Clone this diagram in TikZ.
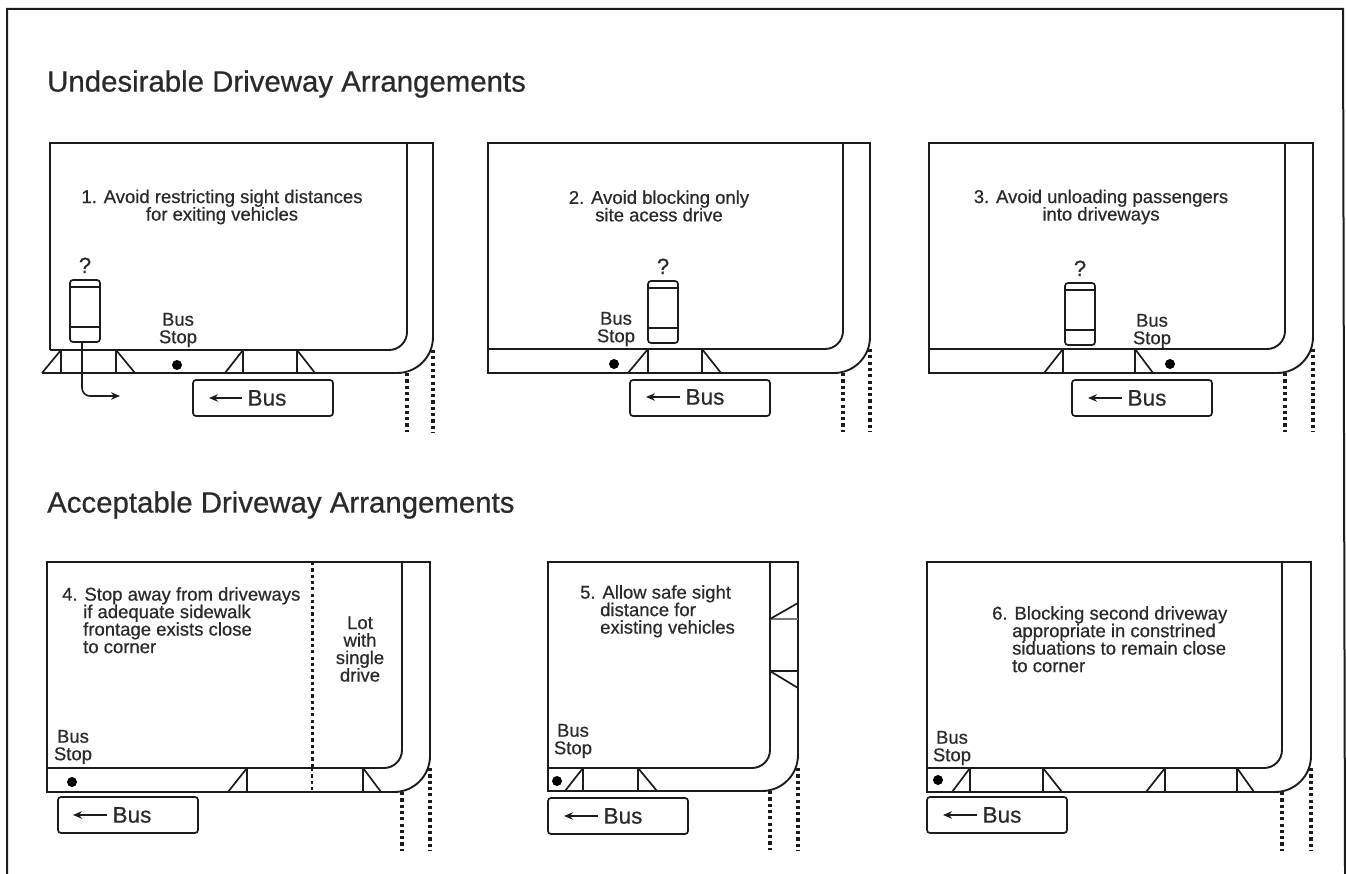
\documentclass[tikz,border=0pt]{standalone}
\usepackage{fontspec}
\setmainfont{Liberation Sans}[FakeBold=0.6]
\usepackage{tikz}
\usetikzlibrary{arrows.meta,positioning}
\definecolor{inkline}{HTML}{1C1C1C}
\definecolor{inktext}{HTML}{2A2A2A}
\tikzset{
  road/.style={draw=inkline, line width=1.9pt},
  flare/.style={draw=inkline, line width=1.7pt},
  dots/.style={draw=inkline, line width=3.8pt, dash pattern=on 3.2pt off 3.1pt},
  frameline/.style={draw=inkline, line width=2pt},
  heading/.style={anchor=west, inner sep=0pt, text=inktext, font=\fontsize{29.4}{29.4}\selectfont},
  note/.style={inner sep=0pt, text=inktext, align=center, font=\fontsize{18.5}{17.5}\selectfont},
  notel/.style={inner sep=0pt, anchor=north west, text=inktext, align=left, font=\fontsize{18.5}{17.5}\selectfont},
  stoplbl/.style={inner sep=0pt, text=inktext, align=center, font=\fontsize{18.5}{17.5}\selectfont},
  busbox/.style={draw=inkline, line width=1.7pt, rounded corners=3pt, minimum width=140pt, minimum height=36pt},
  buslbl/.style={inner sep=5pt, text=inktext, font=\fontsize{22.5}{22.5}\selectfont},
  busarr/.style={-{Stealth[length=9pt, width=7.5pt]}, draw=inkline, line width=1.6pt},
  stopdot/.style={circle, fill=black, inner sep=0pt, minimum size=10pt},
  carbox/.style={draw=inkline, line width=1.7pt, rounded corners=3pt, minimum width=30pt, minimum height=62pt,
    path picture={
      \draw[inkline, line width=1.2pt] ([yshift=-7pt]path picture bounding box.north west) -- ([yshift=-7pt]path picture bounding box.north east);
      \draw[inkline, line width=1.2pt] ([yshift=15pt]path picture bounding box.south west) -- ([yshift=15pt]path picture bounding box.south east);
    }},
  carlbl/.style={inner sep=0pt, text=inktext, font=\fontsize{22}{22}\selectfont},
}
\begin{document}
\begin{tikzpicture}[x=1pt, y=-1pt]
  \useasboundingbox (0,0) rectangle (1346,874);

  % outer frame
  \draw[frameline] (7,874) -- (7,9) -- (1343,9) -- (1345,874);

  \node[heading] (headbad)  at (47,84)  {Undesirable Driveway Arrangements};
  \node[heading] (headgood) at (47,505) {Acceptable Driveway Arrangements};

  % lots: left/top/inner right/outer right/inner bottom/outer bottom
  \foreach \xl/\yt/\xi/\xo/\yi/\yo in {50/143/407/433/350/373, 488/143/843/870/349/373, 929/143/1285/1313/349/373,
                                       47/562/402/430/768/792, 548/562/770/798/768/791, 927/562/1282/1311/768/792} {
    \draw[road] (\xl,\yi) -- (\xl,\yt) -- (\xo,\yt) -- (\xo,\yi-13);
    \draw[road, rounded corners=18pt] (\xi,\yt) -- (\xi,\yi) -- (\xl,\yi);
    \draw[road, rounded corners=36pt] (\xo,\yi-30) -- (\xo,\yo) -- (\xi-30,\yo);
    \draw[dots] (\xi,\yo) -- (\xi,\yo+59);
    \draw[dots] (\xo,\yi) -- (\xo,\yo+59);
  }
  % sidewalk edges
  \draw[road] (42,373) -- (390,373);
  \draw[road] (488,349) -- (488,373) -- (825,373);
  \draw[road] (929,349) -- (929,373) -- (1267,373);
  \draw[road] (47,768) -- (47,792) -- (385,792);
  \draw[road] (548,768) -- (548,791) -- (752,791);
  \draw[road] (927,768) -- (927,792) -- (1265,792);

  % driveway flares: vertical x/outer x/top/bottom
  \foreach \xa/\xb/\ya/\yb in {61/42/350/373, 116/135/350/373, 243/225/350/373, 297/315/350/373,
                               648/628/349/373, 702/721/349/373,
                               1063/1044/349/373, 1135/1153/349/373,
                               247/228/768/792, 363/381/768/792,
                               583/565/768/791, 638/657/768/791,
                               970/952/768/792, 1043/1062/768/792, 1165/1146/768/792, 1237/1254/768/792} {
    \draw[flare] (\xa,\ya) -- (\xa,\yb);
    \draw[flare] (\xa,\ya) -- (\xb,\yb);
  }
  % side street flares in panel 5
  \draw[flare, inkline!60] (770,619) -- (798,619);
  \draw[flare] (770,619) -- (798,603);
  \draw[flare] (770,671) -- (798,671);
  \draw[flare] (770,671) -- (798,688);

  % lot line of panel 4
  \draw[dots, line width=3pt] (312,562) -- (312,768);
  \draw[dots, line width=1.4pt] (312,768) -- (312,790);

  \node[note] (texta) at (222,207) {1. Avoid restricting sight distances\\for exiting vehicles};
  \node[note] (textb) at (659,206) {2. Avoid blocking only\\site acess drive};
  \node[note] (textc) at (1101,207) {3. Avoid unloading passengers\\into driveways};
  \node[notel] (textd) at (62,587) {4. Stop away from driveways\\\hspace*{21pt}if adequate sidewalk\\\hspace*{21pt}frontage exists close\\\hspace*{21pt}to corner};
  \node[note] (lot) at (360,649) {Lot\\with\\single\\drive};
  \node[notel] (texte) at (580,585) {5. Allow safe sight\\\hspace*{20pt}distance for\\\hspace*{20pt}existing vehicles};
  \node[notel] (textf) at (992,606) {6. Blocking second driveway\\\hspace*{20pt}appropriate in constrined\\\hspace*{20pt}siduations to remain close\\\hspace*{20pt}to corner};

  \node[stoplbl] (stopa) at (178,330) {Bus\\Stop};
  \node[stoplbl] (stopb) at (616,329) {Bus\\Stop};
  \node[stoplbl] (stopc) at (1152,331) {Bus\\Stop};
  \node[stoplbl] (stopd) at (73,747) {Bus\\Stop};
  \node[stoplbl] (stope) at (573,741) {Bus\\Stop};
  \node[stoplbl] (stopf) at (952,748) {Bus\\Stop};

  \node[stopdot] (dota) at (177,365) {};
  \node[stopdot] (dotb) at (614,364) {};
  \node[stopdot] (dotc) at (1170,364) {};
  \node[stopdot] (dotd) at (72,782) {};
  \node[stopdot] (dote) at (557,781) {};
  \node[stopdot] (dotf) at (938,780) {};

  % cars
  \node[carbox] (cara) at (85,311) {};
  \node[carbox] (carb) at (663,312) {};
  \node[carbox] (carc) at (1080,314) {};
  \node[carlbl, above=6pt of cara] (aska) {?};
  \node[carlbl, above=6pt of carb] (askb) {?};
  \node[carlbl, above=6pt of carc] (askc) {?};
  \coordinate (exita) at (120,396);
  \draw[busarr, rounded corners=8pt] ([xshift=-3pt]cara.south) |- (exita);

  % buses
  \node[busbox] (boxa) at (263,398) {};
  \node[busbox] (boxb) at (700,398) {};
  \node[busbox] (boxc) at (1142,398) {};
  \node[busbox] (boxd) at (128,815) {};
  \node[busbox] (boxe) at (618,816) {};
  \node[busbox] (boxf) at (997,815) {};
  \node[buslbl] (busa) at (267,398) {Bus};
  \node[buslbl] (busb) at (705,397) {Bus};
  \node[buslbl] (busc) at (1147,398) {Bus};
  \node[buslbl] (busd) at (132,815) {Bus};
  \node[buslbl] (buse) at (623,816) {Bus};
  \node[buslbl] (busf) at (1002,815) {Bus};
  \coordinate (tipa) at (209,398);
  \coordinate (tipb) at (646,397);
  \coordinate (tipc) at (1088,398);
  \coordinate (tipd) at (73,815);
  \coordinate (tipe) at (564,816);
  \coordinate (tipf) at (943,815);
  \draw[busarr] (busa) -- (tipa);
  \draw[busarr] (busb) -- (tipb);
  \draw[busarr] (busc) -- (tipc);
  \draw[busarr] (busd) -- (tipd);
  \draw[busarr] (buse) -- (tipe);
  \draw[busarr] (busf) -- (tipf);
\end{tikzpicture}
\end{document}
